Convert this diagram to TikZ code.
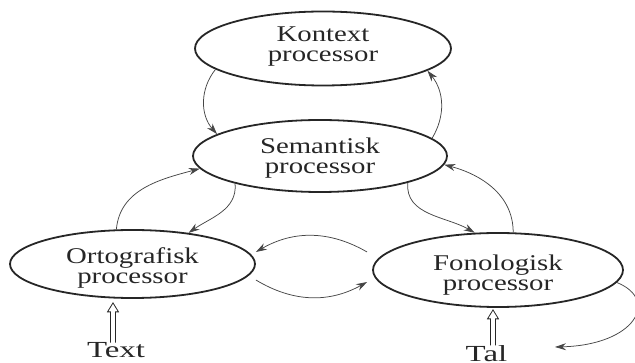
\documentclass[tikz,border=0pt]{standalone}
\usepackage{fontspec}
\setmainfont{Liberation Serif}[FakeStretch=1.28]
\newfontfamily\widefont{Liberation Serif}[FakeStretch=1.43]
\usetikzlibrary{shapes.geometric,arrows.meta,calc}
\definecolor{ink}{HTML}{262626}
\definecolor{wire}{HTML}{464646}
\begin{document}
\begin{tikzpicture}[x=1pt,y=-1pt,
  proc/.style={ellipse, draw=ink, line width=1.8pt, inner sep=0pt, text=ink, align=center, font=\fontsize{22.5}{20}\selectfont},
  lbl/.style={inner sep=0pt, anchor=base, text=ink, font=\widefont\fontsize{23}{23}\selectfont},
  link/.style={draw=wire, line width=0.75pt, -{Stealth[length=11pt,width=7pt]}},
  feed/.style={draw=ink, line width=0.8pt, line join=miter}]
\useasboundingbox (0,0) rectangle (635,363);
\node[proc, minimum width=256pt, minimum height=74pt] (k) at (323,48.5) {Kontext\\processor\rule[-8.3pt]{0pt}{0pt}};
\node[proc, minimum width=254pt, minimum height=72pt] (s) at (320,156) {\rule{0pt}{18.9pt}Semantisk\\processor};
\node[proc, minimum width=245pt, minimum height=68pt] (o) at (132.5,264) {\rule{0pt}{22.9pt}Ortografisk\\processor};
\node[proc, minimum width=250pt, minimum height=74pt] (f) at (498,270) {\rule{0pt}{24.9pt}Fonologisk\\processor};
\node[lbl] (text) at (116,358) {Text};
\node[lbl] (tal) at (486.5,361.5) {Tal};
\coordinate (talin) at (555,347);
\coordinate (tx) at ([xshift=-3pt]text.north);
\coordinate (tl) at ([xshift=6.5pt]tal.north);
\coordinate (txe) at ($(tx |- o.south)+(0,4)$);
\coordinate (tle) at ($(tl |- f.south)+(0,2)$);

\draw[link] (k.191) to[bend right=40] (s.168);
\draw[link] (s.9) to[bend right=35] (k.-12);
\draw[link] (o.115) to[out=85,in=195] (s.186);
\draw[link] (s.198) to[out=-85,in=35] (o.29);
\draw[link] (s.-17) to[out=-95,in=150] (f.122);
\draw[link] (f.68) to[out=90,in=-15] (s.-4);
\draw[link] ([xshift=-5pt,yshift=18pt]f.west) to[bend right=30] ([yshift=12pt]o.east);
\draw[link] ([yshift=-16pt]o.east) to[bend right=30] ([xshift=-5pt,yshift=-12pt]f.west);
\draw[link] (f.-6) .. controls (660,300) and (635,345) .. (talin);
\draw[feed] ($(tx)+(-2.5,0)$) -- ($(txe)+(-2.5,9)$) -- ($(txe)+(-5.5,9)$) -- (txe)
  -- ($(txe)+(5.5,9)$) -- ($(txe)+(2.5,9)$) -- ($(tx)+(2.5,0)$);
\draw[feed] ($(tl)+(-2.5,0)$) -- ($(tle)+(-2.5,9)$) -- ($(tle)+(-5.5,9)$) -- (tle)
  -- ($(tle)+(5.5,9)$) -- ($(tle)+(2.5,9)$) -- ($(tl)+(2.5,0)$);
\end{tikzpicture}
\end{document}
